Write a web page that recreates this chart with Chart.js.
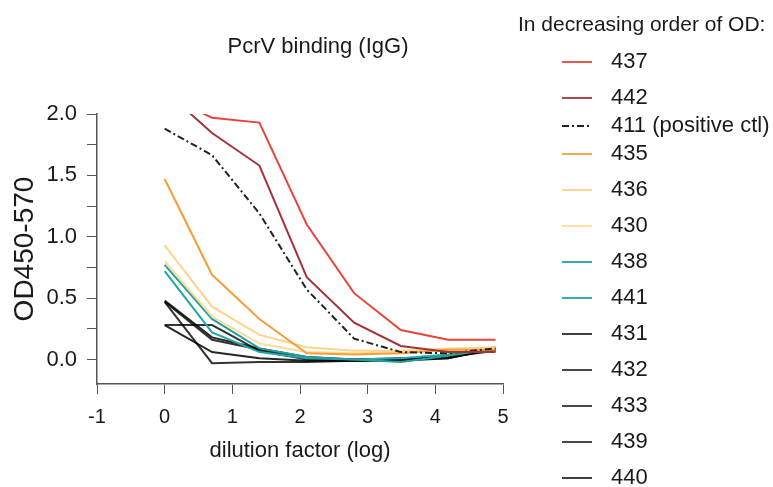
<!DOCTYPE html>
<html>
<head>
<meta charset="utf-8">
<script src="https://cdn.jsdelivr.net/npm/chart.js@4.4.1/dist/chart.umd.min.js"></script>
<style>
  html, body { margin: 0; padding: 0; background: #fff; }
</style>
</head>
<body>
<canvas id="chart" width="773" height="487"></canvas>
<script>
// x positions: log dilution (5-fold steps)
var dilution = [0, 0.7, 1.4, 2.1, 2.8, 3.49, 4.19, 4.89];
var xTicks = [-1, 0, 1, 2, 3, 4, 5];
var yTicks = [0, 0.25, 0.5, 0.75, 1, 1.25, 1.5, 1.75, 2];

var sera = ['437', '442', '411 (positive ctl)', '435', '436', '430', '438', '441', '431', '432', '433', '439', '440'];

var od437 = [2.15, 1.97, 1.93, 1.10, 0.54, 0.24, 0.16, 0.16];
var od442 = [2.19, 1.845, 1.58, 0.67, 0.30, 0.11, 0.06, 0.06];
var od411 = [1.88, 1.665, 1.19, 0.57, 0.17, 0.06, 0.05, 0.09];
var od435 = [1.47, 0.69, 0.33, 0.05, 0.04, 0.05, 0.08, 0.08];
var od436 = [0.93, 0.43, 0.20, 0.10, 0.07, 0.07, 0.09, 0.10];
var od430 = [0.80, 0.35, 0.13, 0.06, 0.05, 0.06, 0.08, 0.09];
var od438 = [0.77, 0.33, 0.09, 0.02, 0.00, -0.02, 0.03, 0.09];
var od441 = [0.72, 0.22, 0.06, 0.01, 0.00, 0.01, 0.04, 0.10];
var od431 = [0.48, 0.18, 0.09, 0.02, 0.00, 0.01, 0.02, 0.08];
var od432 = [0.47, 0.16, 0.08, 0.01, 0.00, 0.00, 0.01, 0.09];
var od433 = [0.47, -0.03, -0.02, -0.02, -0.01, 0.00, 0.02, 0.08];
var od439 = [0.28, 0.28, 0.07, 0.00, -0.01, 0.00, 0.02, 0.07];
var od440 = [0.28, 0.06, 0.01, -0.01, -0.01, -0.01, 0.01, 0.09];

var series = [od437, od442, od411, od435, od436, od430, od438, od441, od431, od432, od433, od439, od440];
var colors = ['#e8443c', '#a3323a', '#222222', '#f59d38', '#fdd48a', '#fedc96', '#23a0a0', '#1fa8a8',
              'rgba(0,0,0,0.85)', 'rgba(0,0,0,0.8)', 'rgba(0,0,0,0.8)', 'rgba(0,0,0,0.8)', 'rgba(0,0,0,0.85)'];

var chartTitle = 'PcrV binding (IgG)';
var legendTitle = 'In decreasing order of OD:';
var legendGaps = [36, 28, 28, 36, 36, 36, 36, 36, 36, 36, 36, 36];

var FONT = '"Liberation Sans", Arial, sans-serif';
Chart.defaults.font.family = FONT;
Chart.defaults.color = '#1a1a1a';

var datasets = series.map(function (vals, i) {
  return {
    label: sera[i],
    data: vals.map(function (v, j) { return { x: dilution[j], y: v }; }),
    borderColor: colors[i],
    borderWidth: 2,
    borderDash: sera[i].indexOf('411') === 0 ? [7, 3, 2, 3] : [],
    pointRadius: 0,
    tension: 0,
    fill: false
  };
});

// title and the hand-laid legend on the right
var sidePanel = {
  id: 'sidePanel',
  afterDraw: function (chart) {
    var ctx = chart.ctx;
    var area = chart.chartArea;
    ctx.save();
    ctx.fillStyle = '#1a1a1a';
    ctx.textBaseline = 'middle';
    ctx.textAlign = 'center';
    ctx.font = '22px ' + FONT;
    ctx.fillText(chartTitle, (area.left + area.right) / 2 + 18, 47);

    ctx.textAlign = 'left';
    ctx.font = '21px ' + FONT;
    ctx.fillText(legendTitle, 518, 25);

    ctx.font = '22px ' + FONT;
    var y = 62;
    chart.data.datasets.forEach(function (ds, i) {
      ctx.beginPath();
      ctx.setLineDash(ds.borderDash || []);
      ctx.strokeStyle = ds.borderColor;
      ctx.lineWidth = 1.8;
      ctx.moveTo(562, y);
      ctx.lineTo(592, y);
      ctx.stroke();
      ctx.setLineDash([]);
      ctx.fillText(ds.label, 611, y);
      y += legendGaps[i] || 0;
    });
    ctx.restore();
  }
};

new Chart(document.getElementById('chart'), {
  type: 'line',
  data: { datasets: datasets },
  plugins: [sidePanel],
  options: {
    responsive: false,
    animation: false,
    layout: { padding: { top: 114, right: 270, left: 0, bottom: 0 } },
    plugins: {
      legend: { display: false },
      title: { display: false },
      tooltip: { enabled: false }
    },
    scales: {
      x: {
        type: 'linear',
        min: -1,
        max: 5,
        afterBuildTicks: function (scale) {
          scale.ticks = xTicks.map(function (v) { return { value: v }; });
        },
        ticks: { font: { size: 20 }, padding: 11, color: '#1a1a1a', maxRotation: 0 },
        grid: { drawOnChartArea: false, drawTicks: true, tickLength: 10, color: '#555', tickColor: '#555' },
        border: { display: true, color: '#555', width: 1.5 },
        title: { display: true, text: 'dilution factor (log)', font: { size: 22, lineHeight: 1 }, color: '#1a1a1a', padding: { top: 0, bottom: 25 } }
      },
      y: {
        min: -0.2,
        max: 2.0,
        afterBuildTicks: function (scale) {
          scale.ticks = yTicks.map(function (v) { return { value: v }; });
        },
        afterFit: function (scale) { scale.width = 97; },
        ticks: {
          font: { size: 22 },
          padding: 10,
          color: '#1a1a1a',
          callback: function (v) { return (Math.round(v * 100) % 50 === 0) ? v.toFixed(1) : ''; }
        },
        grid: { drawOnChartArea: false, drawTicks: true, tickLength: 10, color: '#555', tickColor: '#555' },
        border: { display: true, color: '#555', width: 1.5 },
        title: { display: true, text: 'OD450-570', font: { size: 28 }, color: '#1a1a1a', padding: { top: 8, bottom: 0 } }
      }
    }
  }
});
</script>
</body>
</html>
